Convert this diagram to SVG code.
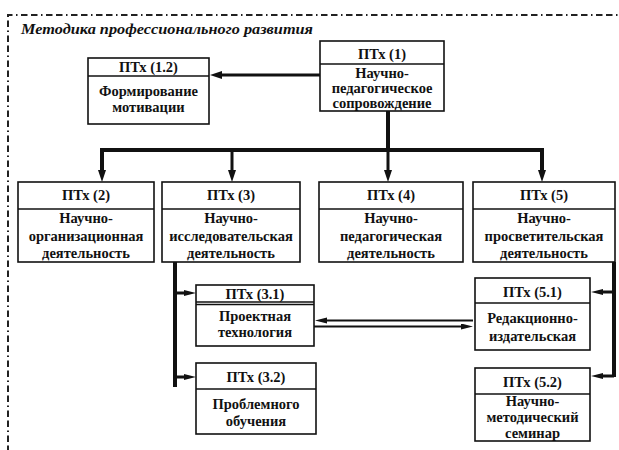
<svg xmlns="http://www.w3.org/2000/svg" width="619" height="450" viewBox="0 0 619 450">
<style>
.frame{fill:none;stroke:#222;stroke-width:2;stroke-dasharray:6.5 3.5 6.5 3.5 1.5 3.5}
.box{fill:#fff;stroke:#111;stroke-width:1.6}
.div{stroke:#111;stroke-width:1.4}
.t{font-family:'Liberation Serif','DejaVu Serif',serif;font-weight:bold;font-size:14.5px;fill:#111;text-anchor:middle}
.title{font-family:'Liberation Serif','DejaVu Serif',serif;font-weight:bold;font-style:italic;font-size:15px;fill:#111}
.c{fill:none;stroke:#111}
.w4{stroke-width:4}
.w3{stroke-width:3}
.w2{stroke-width:1.8}
</style>
<defs>
<marker id="ah" markerUnits="userSpaceOnUse" markerWidth="13" markerHeight="9" refX="0" refY="4" orient="auto">
<path d="M0,0 L12,4 L0,8 z" fill="#111"/>
</marker>
<marker id="ahs" markerUnits="userSpaceOnUse" markerWidth="13" markerHeight="7" refX="0" refY="3" orient="auto">
<path d="M0,0 L12,3 L0,6 z" fill="#111"/>
</marker>
</defs>
<rect width="619" height="450" fill="#fff"/>
<path class="frame" d="M8,452 L8,15 L621,15"/>
<text class="title" x="21" y="34" textLength="292" lengthAdjust="spacingAndGlyphs">Методика профессионального развития</text>

<g id="connectors">
<path class="c w3" d="M320,75 L222,75" marker-end="url(#ah)"/>
<path class="c w4" d="M388,111 L388,150"/>
<path class="c w4" d="M102,170 L102,150 L542,150 L542,170"/>
<path class="c w3" d="M102,160 L102,170" marker-end="url(#ah)"/>
<path class="c w3" d="M232,150 L232,170" marker-end="url(#ah)"/>
<path class="c w3" d="M388,150 L388,170" marker-end="url(#ah)"/>
<path class="c w3" d="M542,160 L542,170" marker-end="url(#ah)"/>
<path class="c w4" d="M175,262 L175,387"/>
<path class="c w3" d="M175,293 L184,293" marker-end="url(#ahs)"/>
<path class="c w3" d="M175,377 L184,377" marker-end="url(#ahs)"/>
<path class="c w4" d="M614,262 L614,377"/>
<path class="c w3" d="M614,292 L603,292" marker-end="url(#ahs)"/>
<path class="c w3" d="M614,376 L603,376" marker-end="url(#ahs)"/>
<path class="c w2" d="M473,320.5 L327,320.5" marker-end="url(#ahs)"/>
<path class="c w2" d="M314,326.5 L461,326.5" marker-end="url(#ahs)"/>
</g>

<g id="node-1">
<rect class="box" x="320" y="41" width="124" height="70"/>
<line class="div" x1="320" y1="64" x2="444" y2="64"/>
<text class="t" x="382" y="59">ПТх (1)</text>
<text class="t" x="382" y="78">Научно-</text>
<text class="t" x="382" y="93">педагогическое</text>
<text class="t" x="382" y="108">сопровождение</text>
</g>

<g id="node-1-2">
<rect class="box" x="88" y="58" width="121" height="66"/>
<line class="div" x1="88" y1="76" x2="209" y2="76"/>
<text class="t" x="148.5" y="72">ПТх (1.2)</text>
<text class="t" x="148.5" y="96">Формирование</text>
<text class="t" x="148.5" y="112">мотивации</text>
</g>

<g id="node-2">
<rect class="box" x="18" y="182" width="136" height="80"/>
<line class="div" x1="18" y1="209" x2="154" y2="209"/>
<text class="t" x="86" y="200">ПТх (2)</text>
<text class="t" x="86" y="223">Научно-</text>
<text class="t" x="86" y="241">организационная</text>
<text class="t" x="86" y="258">деятельность</text>
</g>

<g id="node-3">
<rect class="box" x="162" y="182" width="138" height="80"/>
<line class="div" x1="162" y1="209" x2="300" y2="209"/>
<text class="t" x="231" y="200">ПТх (3)</text>
<text class="t" x="231" y="223">Научно-</text>
<text class="t" x="231" y="241">исследовательская</text>
<text class="t" x="231" y="258">деятельность</text>
</g>

<g id="node-4">
<rect class="box" x="319" y="182" width="144" height="80"/>
<line class="div" x1="319" y1="209" x2="463" y2="209"/>
<text class="t" x="391" y="200">ПТх (4)</text>
<text class="t" x="391" y="223">Научно-</text>
<text class="t" x="391" y="241">педагогическая</text>
<text class="t" x="391" y="258">деятельность</text>
</g>

<g id="node-5">
<rect class="box" x="473" y="182" width="142" height="80"/>
<line class="div" x1="473" y1="209" x2="615" y2="209"/>
<text class="t" x="544" y="200">ПТх (5)</text>
<text class="t" x="544" y="223">Научно-</text>
<text class="t" x="544" y="241">просветительская</text>
<text class="t" x="544" y="258">деятельность</text>
</g>

<g id="node-3-1">
<rect class="box" x="196" y="285" width="118" height="61"/>
<line class="div" x1="196" y1="302" x2="314" y2="302"/>
<line class="div" x1="196" y1="304.5" x2="314" y2="304.5"/>
<text class="t" x="255" y="299">ПТх (3.1)</text>
<text class="t" x="255" y="321">Проектная</text>
<text class="t" x="255" y="337">технология</text>
</g>

<g id="node-3-2">
<rect class="box" x="196" y="363" width="120" height="71"/>
<line class="div" x1="196" y1="389" x2="316" y2="389"/>
<text class="t" x="256" y="382">ПТх (3.2)</text>
<text class="t" x="256" y="409">Проблемного</text>
<text class="t" x="256" y="426">обучения</text>
</g>

<g id="node-5-1">
<rect class="box" x="475" y="278" width="115" height="72"/>
<line class="div" x1="475" y1="303" x2="590" y2="303"/>
<text class="t" x="532.5" y="297">ПТх (5.1)</text>
<text class="t" x="532.5" y="323">Редакционно-</text>
<text class="t" x="532.5" y="341">издательская</text>
</g>

<g id="node-5-2">
<rect class="box" x="475" y="368" width="115" height="73"/>
<line class="div" x1="475" y1="394" x2="590" y2="394"/>
<text class="t" x="532.5" y="387">ПТх (5.2)</text>
<text class="t" x="532.5" y="406">Научно-</text>
<text class="t" x="532.5" y="422">методический</text>
<text class="t" x="532.5" y="438">семинар</text>
</g>
</svg>
